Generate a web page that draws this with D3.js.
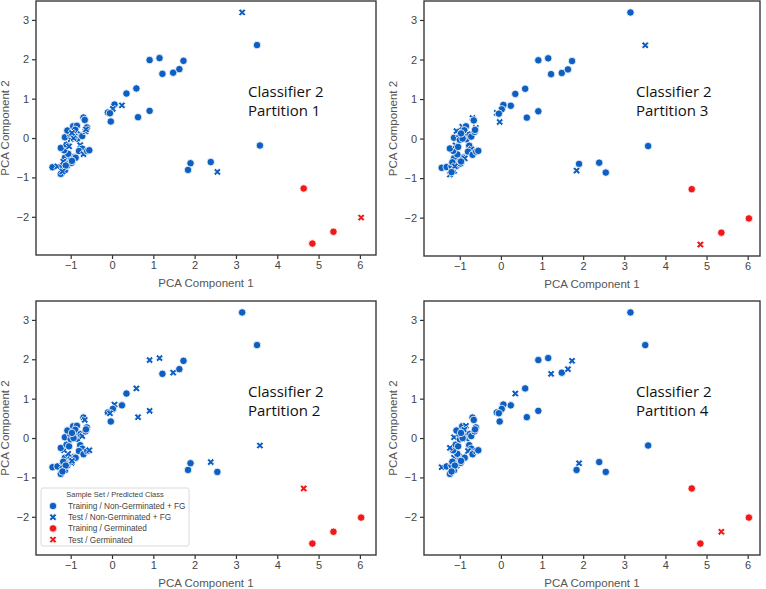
<!DOCTYPE html>
<html>
<head>
<meta charset="utf-8">
<title>Classifier 2 partitions</title>
<script src="https://d3js.org/d3.v7.min.js"></script>
<style>
  body { margin: 0; background: #fff; }
  svg { display: block; }
</style>
</head>
<body>
<script>
// PCA scores of every sample (same points in every panel)
var pc1 = [3.15, 3.51, 0.91, 1.15, 1.73, 1.22, 1.48, 1.63, 0.59, 0.35,
           0.24, 0.06, 0.02, -0.10, -0.05, -0.03, 0.63, 0.91, 3.58, 1.90,
           1.84, 2.39, 2.55, 4.64, 4.85, 5.36, 6.03,
           -1.44, -1.32, -1.24, -1.20, -1.14, -1.08, -1.10, -0.98, -1.14, -1.00,
           -0.92, -0.88, -1.06, -1.16, -1.24, -1.10, -1.04, -1.14, -1.00, -0.84,
           -0.90, -1.02, -1.08, -0.94, -0.85, -0.89, -0.76, -0.72, -0.64, -0.61,
           -0.69, -0.66, -0.77, -0.72, -0.80, -0.69, -0.60, -0.55, -0.97, -1.18,
           -0.93, -0.63, -0.97, -1.12, -1.20];
var pc2 = [3.19, 2.36, 1.98, 2.03, 1.96, 1.63, 1.66, 1.75, 1.26, 1.13,
           0.83, 0.85, 0.74, 0.65, 0.63, 0.42, 0.53, 0.69, -0.19, -0.64,
           -0.81, -0.61, -0.86, -1.28, -2.68, -2.38, -2.02,
           -0.74, -0.72, -0.91, -0.70, -0.82, -0.70, -0.60, -0.63, -0.50, -0.50,
           -0.48, -0.50, -0.40, -0.31, -0.25, -0.17, -0.21, 0.02, -0.03, -0.02,
           0.05, 0.11, 0.19, 0.30, 0.31, 0.21, 0.10, 0.05, 0.17, 0.27,
           0.52, 0.46, -0.18, -0.27, -0.33, -0.41, -0.33, -0.31, -0.58, -0.60,
           0.00, 0.22, 0.13, -0.70, -0.85];
// predicted class: 0 = Non-Germinated + FG, 1 = Germinated
var predClass = [0, 0, 0, 0, 0, 0, 0, 0, 0, 0,
                 0, 0, 0, 0, 0, 0, 0, 0, 0, 0,
                 0, 0, 0, 1, 1, 1, 1,
                 0, 0, 0, 0, 0, 0, 0, 0, 0, 0,
                 0, 0, 0, 0, 0, 0, 0, 0, 0, 0,
                 0, 0, 0, 0, 0, 0, 0, 0, 0, 0,
                 0, 0, 0, 0, 0, 0, 0, 0, 0, 0,
                 0, 0, 0, 0, 0];
// partition in which the sample is in the test set
var testFold = [1, 3, 2, 2, 4, 4, 2, 4, 2, 4,
                1, 2, 1, 3, 2, 3, 2, 2, 2, 4,
                3, 2, 1, 2, 3, 4, 1,
                4, 1, 3, 2, 3, 4, 4, 2, 4, 3,
                4, 3, 2, 2, 4, 3, 1, 4, 1, 4,
                2, 3, 3, 3, 4, 4, 1, 2, 1, 3,
                3, 2, 1, 3, 4, 1, 4, 2, 2, 1,
                1, 1, 1, 3, 1];

var panelOrder = [1, 3, 2, 4];
var xTicks = [-1, 0, 1, 2, 3, 4, 5, 6];
var yTicks = [-2, -1, 0, 1, 2, 3];
var legendTitle = "Sample Set / Predicted Class";
var legendLabels = ["Training / Non-Germinated + FG", "Test / Non-Germinated + FG",
                    "Training / Germinated", "Test / Germinated"];

var colors = ["#0d5fc2", "#f01818"];
var W = 766, H = 589;

var svg = d3.select("body").append("svg")
    .attr("width", W)
    .attr("height", H);

var frames = [
    {x0: 36, x1: 376, y0: 1, y1: 255, xd: [-1.84, 6.39], labX: 5},
    {x0: 424, x1: 760, y0: 1, y1: 256, xd: [-1.87, 6.30], labX: 393},
    {x0: 36, x1: 376, y0: 301, y1: 555, xd: [-1.84, 6.39], labX: 5},
    {x0: 424, x1: 760, y0: 301, y1: 555, xd: [-1.87, 6.30], labX: 393}
];

var crossPath = d3.symbol().type(d3.symbolCross).size(34)();
var circlePath = d3.symbol().type(d3.symbolCircle).size(44)();

function marker(sel, isTest, cls) {
    sel.append("path")
        .attr("d", isTest ? crossPath : circlePath)
        .attr("transform", isTest ? "rotate(45)" : null)
        .attr("fill", colors[cls])
        .attr("stroke", "#fff")
        .attr("stroke-width", 0.8);
}

function fmt(d) { return d < 0 ? "\u2212" + Math.abs(d) : d; }

var idx = d3.range(pc1.length);

panelOrder.forEach(function(part, p) {
    var f = frames[p];
    var x = d3.scaleLinear().domain(f.xd).range([f.x0, f.x1]);
    var y = d3.scaleLinear().domain([-2.97, 3.48]).range([f.y1, f.y0]);

    var g = svg.append("g");

    var xa = g.append("g")
        .attr("transform", "translate(0," + f.y1 + ")")
        .call(d3.axisBottom(x).tickValues(xTicks).tickSize(4).tickSizeOuter(0).tickPadding(2).tickFormat(fmt));
    var ya = g.append("g")
        .attr("transform", "translate(" + f.x0 + ",0)")
        .call(d3.axisLeft(y).tickValues(yTicks).tickSize(4).tickSizeOuter(0).tickPadding(3).tickFormat(fmt));
    [xa, ya].forEach(function(a) {
        a.select(".domain").remove();
        a.selectAll("line").attr("stroke", "#333").attr("stroke-width", 1.2);
        a.selectAll("text").attr("fill", "#444")
            .style("font-family", "'Liberation Sans', Arial, sans-serif")
            .style("font-size", "11px");
    });

    g.append("rect")
        .attr("x", f.x0).attr("y", f.y0)
        .attr("width", f.x1 - f.x0).attr("height", f.y1 - f.y0)
        .attr("fill", "none").attr("stroke", "#3a3a3a").attr("stroke-width", 1.4);

    g.append("text")
        .attr("x", (f.x0 + f.x1) / 2).attr("y", f.y1 + 32)
        .attr("text-anchor", "middle")
        .attr("fill", "#555")
        .style("font-family", "'Liberation Sans', Arial, sans-serif")
        .style("font-size", "11.5px")
        .text("PCA Component 1");

    g.append("text")
        .attr("transform", "translate(" + (f.labX + 4) + "," + ((f.y0 + f.y1) / 2) + ") rotate(-90)")
        .attr("text-anchor", "middle")
        .attr("fill", "#555")
        .style("font-family", "'Liberation Sans', Arial, sans-serif")
        .style("font-size", "11.5px")
        .text("PCA Component 2");

    // points in data order
    g.append("g").selectAll("g")
        .data(idx)
        .enter()
        .append("g")
        .attr("transform", function(i) { return "translate(" + x(pc1[i]) + "," + y(pc2[i]) + ")"; })
        .each(function(i) {
            marker(d3.select(this), testFold[i] === part, predClass[i]);
        });

    var note = g.append("text")
        .attr("x", f.x0 + 212)
        .attr("y", f.y0 + 96)
        .attr("fill", "#111")
        .style("font-family", "'Open Sans', sans-serif")
        .style("font-size", "15px");
    note.append("tspan").attr("x", f.x0 + 212).text("Classifier 2");
    note.append("tspan").attr("x", f.x0 + 212).attr("dy", 19).text("Partition " + part);

    if (part === 2) {
        var lg = g.append("g").attr("transform", "translate(" + (f.x0 + 5) + "," + (f.y1 - 67) + ")");
        lg.append("rect")
            .attr("width", 148).attr("height", 58)
            .attr("rx", 2)
            .attr("fill", "#fff").attr("fill-opacity", 0.85)
            .attr("stroke", "#d0d0d0").attr("stroke-width", 0.8);
        lg.append("text")
            .attr("x", 74).attr("y", 9)
            .attr("text-anchor", "middle")
            .attr("fill", "#444")
            .style("font-family", "'Liberation Sans', Arial, sans-serif")
            .style("font-size", "7.5px")
            .text(legendTitle);
        legendLabels.forEach(function(lab, k) {
            var row = lg.append("g").attr("transform", "translate(12," + (18 + k * 11.2) + ")");
            marker(row, k % 2 === 1, k < 2 ? 0 : 1);
            row.append("text")
                .attr("x", 15).attr("y", 3)
                .attr("fill", "#444")
                .style("font-family", "'Liberation Sans', Arial, sans-serif")
                .style("font-size", "8.2px")
                .text(lab);
        });
    }
});
</script>
</body>
</html>
